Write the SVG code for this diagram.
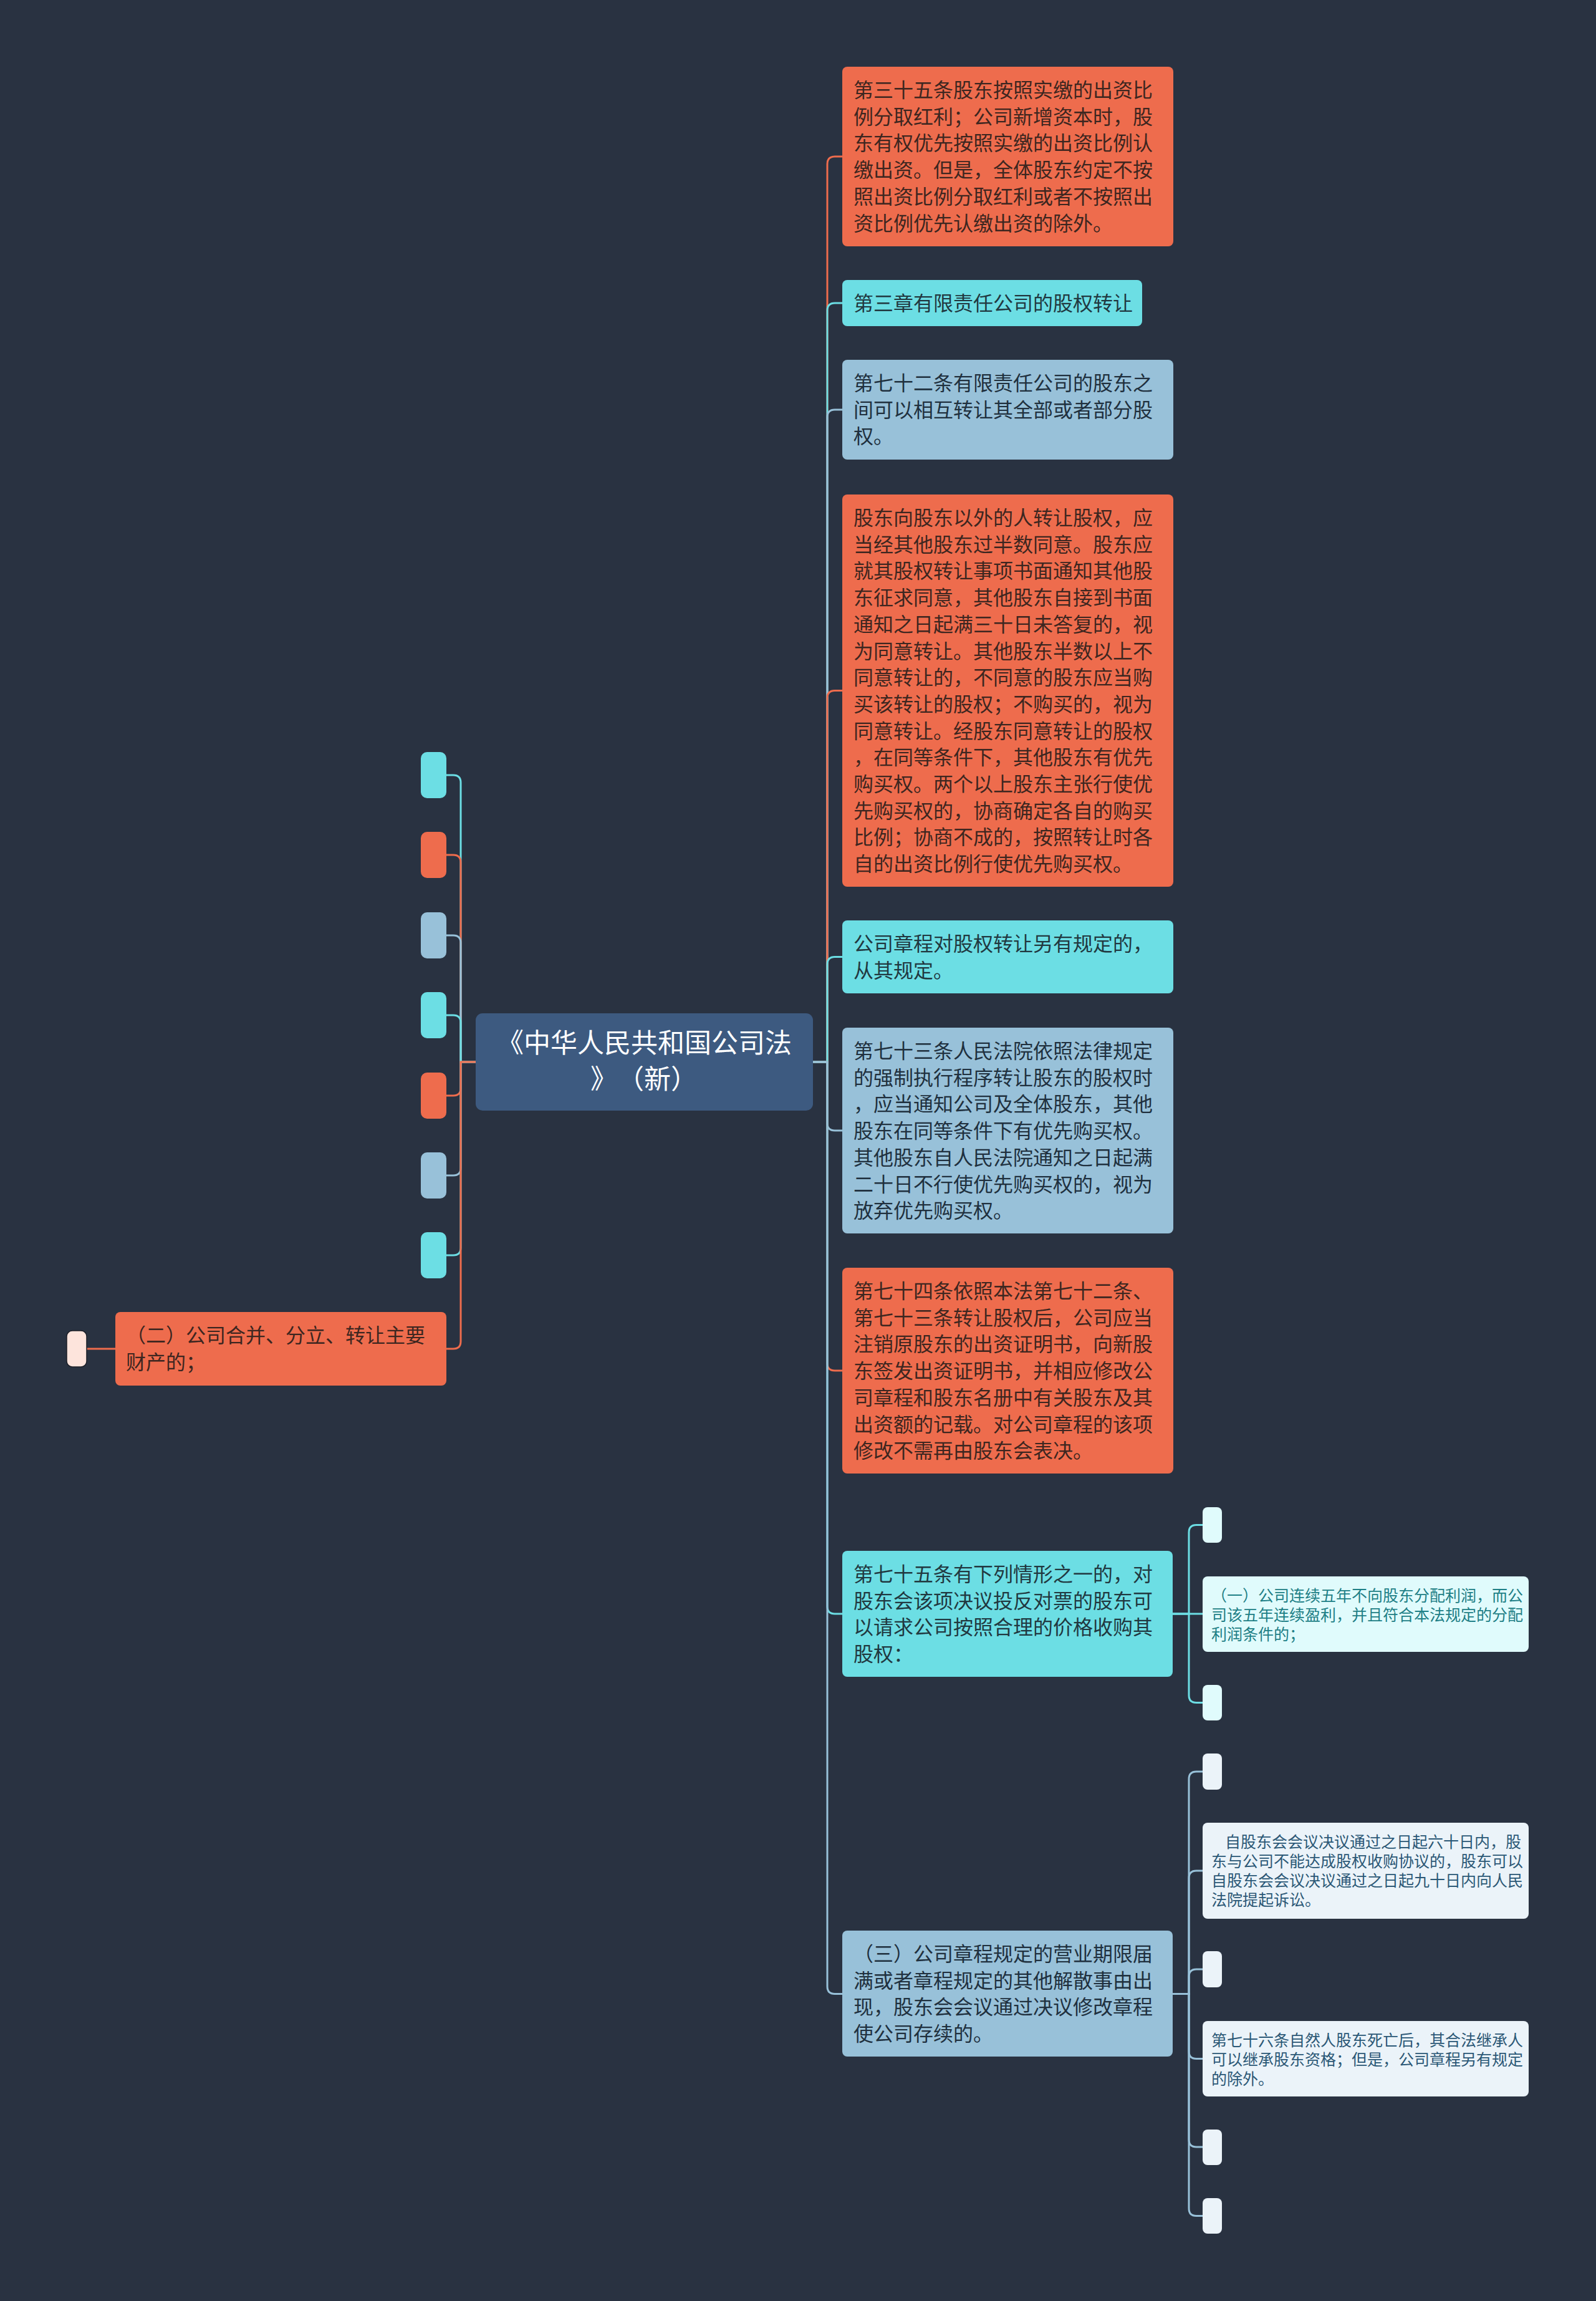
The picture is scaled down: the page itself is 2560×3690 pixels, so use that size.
<svg xmlns="http://www.w3.org/2000/svg" width="2560" height="3690" viewBox="0 0 2560 3690">
<style>
text{font-family:"Noto Sans CJK SC","Microsoft YaHei",sans-serif;text-spacing-trim:space-all;}
.t32{font-size:32px;}
.t25{font-size:25px;}
.root{font-size:43px;fill:#ffffff;}
.o{fill:#ee6c4d;}
.c{fill:#6cdee4;}
.b{fill:#98c1d9;}
.to{fill:#3d2620;}
.tc{fill:#213840;}
.tb{fill:#20303e;}
.ln{fill:none;stroke-width:3;}
.lo{stroke:#ee6c4d;}
.lc{stroke:#6cdee4;}
.lb{stroke:#98c1d9;}
.pc{fill:#e0fbfc;}
.pb{fill:#ebf3f9;}
</style>
<rect x="0" y="0" width="2560" height="3690" fill="#293241"/>
<g id="connectors">
<path class="ln lo" d="M1304,1703 H1327 V263 Q1327,251 1339,251 H1351"/>
<path class="ln lc" d="M1304,1703 H1327 V498 Q1327,486 1339,486 H1351"/>
<path class="ln lb" d="M1304,1703 H1327 V669 Q1327,657 1339,657 H1351"/>
<path class="ln lo" d="M1304,1703 H1327 V1119.5 Q1327,1107.5 1339,1107.5 H1351"/>
<path class="ln lc" d="M1304,1703 H1327 V1546.5 Q1327,1534.5 1339,1534.5 H1351"/>
<path class="ln lb" d="M1304,1703 H1327 V1801 Q1327,1813 1339,1813 H1351"/>
<path class="ln lo" d="M1304,1703 H1327 V2186 Q1327,2198 1339,2198 H1351"/>
<path class="ln lc" d="M1304,1703 H1327 V2576 Q1327,2588 1339,2588 H1351"/>
<path class="ln lb" d="M1304,1703 H1327 V3185.5 Q1327,3197.5 1339,3197.5 H1351"/>
<path class="ln lc" d="M763,1703 H739 V1255 Q739,1243 727,1243 H716"/>
<path class="ln lo" d="M763,1703 H739 V1383 Q739,1371 727,1371 H716"/>
<path class="ln lb" d="M763,1703 H739 V1512 Q739,1500 727,1500 H716"/>
<path class="ln lc" d="M763,1703 H739 V1640 Q739,1628 727,1628 H716"/>
<path class="ln lo" d="M763,1703 H739 V1745 Q739,1757 727,1757 H716"/>
<path class="ln lb" d="M763,1703 H739 V1873 Q739,1885 727,1885 H716"/>
<path class="ln lc" d="M763,1703 H739 V2001 Q739,2013 727,2013 H716"/>
<path class="ln lo" d="M763,1703 H739 V2151 Q739,2163 727,2163 H716"/>
<path class="ln lo" d="M185,2163 H139"/>
<path class="ln lc" d="M1881,2588 H1907 V2457.5 Q1907,2445.5 1919,2445.5 H1929"/>
<path class="ln lc" d="M1881,2588 H1929"/>
<path class="ln lc" d="M1881,2588 H1907 V2718.5 Q1907,2730.5 1919,2730.5 H1929"/>
<path class="ln lb" d="M1881,3197.5 H1907 V2853 Q1907,2841 1919,2841 H1929"/>
<path class="ln lb" d="M1881,3197.5 H1907 V3012 Q1907,3000 1919,3000 H1929"/>
<path class="ln lb" d="M1881,3197.5 H1907 V3170 Q1907,3158 1919,3158 H1929"/>
<path class="ln lb" d="M1881,3197.5 H1907 V3289.5 Q1907,3301.5 1919,3301.5 H1929"/>
<path class="ln lb" d="M1881,3197.5 H1907 V3431 Q1907,3443 1919,3443 H1929"/>
<path class="ln lb" d="M1881,3197.5 H1907 V3541.5 Q1907,3553.5 1919,3553.5 H1929"/>
</g>
<g id="root">
<rect x="763" y="1625" width="541" height="156" rx="11" fill="#3d5a80"/>
<text class="root"><tspan x="1033.5" y="1688" text-anchor="middle">《中华人民共和国公司法</tspan><tspan x="947" y="1746">》</tspan><tspan x="990" y="1746">（新）</tspan></text>
</g>
<g id="n1">
<rect class="o" x="1351" y="107" width="531" height="288" rx="8"/>
<text class="t32 to"><tspan x="1369" y="156">第三十五条股东按照实缴的出资比</tspan><tspan x="1369" dy="42.7">例分取红利；公司新增资本时，股</tspan><tspan x="1369" dy="42.7">东有权优先按照实缴的出资比例认</tspan><tspan x="1369" dy="42.7">缴出资。但是，全体股东约定不按</tspan><tspan x="1369" dy="42.7">照出资比例分取红利或者不按照出</tspan><tspan x="1369" dy="42.7">资比例优先认缴出资的除外。</tspan></text>
</g>
<g id="n2">
<rect class="c" x="1351" y="449" width="481" height="74" rx="8"/>
<text class="t32 tc"><tspan x="1369" y="498">第三章有限责任公司的股权转让</tspan></text>
</g>
<g id="n3">
<rect class="b" x="1351" y="577" width="531" height="160" rx="8"/>
<text class="t32 tb"><tspan x="1369" y="626">第七十二条有限责任公司的股东之</tspan><tspan x="1369" dy="42.7">间可以相互转让其全部或者部分股</tspan><tspan x="1369" dy="42.7">权。</tspan></text>
</g>
<g id="n4">
<rect class="o" x="1351" y="793" width="531" height="629" rx="8"/>
<text class="t32 to"><tspan x="1369" y="842">股东向股东以外的人转让股权，应</tspan><tspan x="1369" dy="42.7">当经其他股东过半数同意。股东应</tspan><tspan x="1369" dy="42.7">就其股权转让事项书面通知其他股</tspan><tspan x="1369" dy="42.7">东征求同意，其他股东自接到书面</tspan><tspan x="1369" dy="42.7">通知之日起满三十日未答复的，视</tspan><tspan x="1369" dy="42.7">为同意转让。其他股东半数以上不</tspan><tspan x="1369" dy="42.7">同意转让的，不同意的股东应当购</tspan><tspan x="1369" dy="42.7">买该转让的股权；不购买的，视为</tspan><tspan x="1369" dy="42.7">同意转让。经股东同意转让的股权</tspan><tspan x="1369" dy="42.7">，在同等条件下，其他股东有优先</tspan><tspan x="1369" dy="42.7">购买权。两个以上股东主张行使优</tspan><tspan x="1369" dy="42.7">先购买权的，协商确定各自的购买</tspan><tspan x="1369" dy="42.7">比例；协商不成的，按照转让时各</tspan><tspan x="1369" dy="42.7">自的出资比例行使优先购买权。</tspan></text>
</g>
<g id="n5">
<rect class="c" x="1351" y="1476" width="531" height="117" rx="8"/>
<text class="t32 tc"><tspan x="1369" y="1525">公司章程对股权转让另有规定的，</tspan><tspan x="1369" dy="42.7">从其规定。</tspan></text>
</g>
<g id="n6">
<rect class="b" x="1351" y="1648" width="531" height="330" rx="8"/>
<text class="t32 tb"><tspan x="1369" y="1697">第七十三条人民法院依照法律规定</tspan><tspan x="1369" dy="42.7">的强制执行程序转让股东的股权时</tspan><tspan x="1369" dy="42.7">，应当通知公司及全体股东，其他</tspan><tspan x="1369" dy="42.7">股东在同等条件下有优先购买权。</tspan><tspan x="1369" dy="42.7">其他股东自人民法院通知之日起满</tspan><tspan x="1369" dy="42.7">二十日不行使优先购买权的，视为</tspan><tspan x="1369" dy="42.7">放弃优先购买权。</tspan></text>
</g>
<g id="n7">
<rect class="o" x="1351" y="2033" width="531" height="330" rx="8"/>
<text class="t32 to"><tspan x="1369" y="2082">第七十四条依照本法第七十二条、</tspan><tspan x="1369" dy="42.7">第七十三条转让股权后，公司应当</tspan><tspan x="1369" dy="42.7">注销原股东的出资证明书，向新股</tspan><tspan x="1369" dy="42.7">东签发出资证明书，并相应修改公</tspan><tspan x="1369" dy="42.7">司章程和股东名册中有关股东及其</tspan><tspan x="1369" dy="42.7">出资额的记载。对公司章程的该项</tspan><tspan x="1369" dy="42.7">修改不需再由股东会表决。</tspan></text>
</g>
<g id="n8">
<rect class="c" x="1351" y="2487" width="530" height="202" rx="8"/>
<text class="t32 tc"><tspan x="1369" y="2536">第七十五条有下列情形之一的，对</tspan><tspan x="1369" dy="42.7">股东会该项决议投反对票的股东可</tspan><tspan x="1369" dy="42.7">以请求公司按照合理的价格收购其</tspan><tspan x="1369" dy="42.7">股权：</tspan></text>
</g>
<g id="n8a"><rect class="pc" x="1929" y="2417" width="31" height="57" rx="8"/></g>
<g id="n8b">
<rect class="pc" x="1929" y="2528" width="523" height="121" rx="8"/>
<text class="t25" fill="#1e7f86"><tspan x="1943" y="2568">（一）公司连续五年不向股东分配利润，而公</tspan><tspan x="1943" dy="31">司该五年连续盈利，并且符合本法规定的分配</tspan><tspan x="1943" dy="31">利润条件的；</tspan></text>
</g>
<g id="n8c"><rect class="pc" x="1929" y="2702" width="31" height="57" rx="8"/></g>
<g id="n9">
<rect class="b" x="1351" y="3096" width="530" height="202" rx="8"/>
<text class="t32 tb"><tspan x="1369" y="3145">（三）公司章程规定的营业期限届</tspan><tspan x="1369" dy="42.7">满或者章程规定的其他解散事由出</tspan><tspan x="1369" dy="42.7">现，股东会会议通过决议修改章程</tspan><tspan x="1369" dy="42.7">使公司存续的。</tspan></text>
</g>
<g id="n9a"><rect class="pb" x="1929" y="2812" width="31" height="58" rx="8"/></g>
<g id="n9b">
<rect class="pb" x="1929" y="2923" width="523" height="154" rx="8"/>
<text class="t25" fill="#2b5876"><tspan x="1965" y="2963">自股东会会议决议通过之日起六十日内，股</tspan><tspan x="1943" dy="31">东与公司不能达成股权收购协议的，股东可以</tspan><tspan x="1943" dy="31">自股东会会议决议通过之日起九十日内向人民</tspan><tspan x="1943" dy="31">法院提起诉讼。</tspan></text>
</g>
<g id="n9c"><rect class="pb" x="1929" y="3129" width="31" height="58" rx="8"/></g>
<g id="n9d">
<rect class="pb" x="1929" y="3241" width="523" height="121" rx="8"/>
<text class="t25" fill="#2b5876"><tspan x="1943" y="3281">第七十六条自然人股东死亡后，其合法继承人</tspan><tspan x="1943" dy="31">可以继承股东资格；但是，公司章程另有规定</tspan><tspan x="1943" dy="31">的除外。</tspan></text>
</g>
<g id="n9e"><rect class="pb" x="1929" y="3415" width="31" height="57" rx="8"/></g>
<g id="n9f"><rect class="pb" x="1929" y="3525" width="31" height="57" rx="8"/></g>
<g id="l1"><rect class="c" x="675" y="1206" width="41" height="74" rx="10"/></g>
<g id="l2"><rect class="o" x="675" y="1334" width="41" height="74" rx="10"/></g>
<g id="l3"><rect class="b" x="675" y="1463" width="41" height="74" rx="10"/></g>
<g id="l4"><rect class="c" x="675" y="1591" width="41" height="74" rx="10"/></g>
<g id="l5"><rect class="o" x="675" y="1720" width="41" height="74" rx="10"/></g>
<g id="l6"><rect class="b" x="675" y="1848" width="41" height="74" rx="10"/></g>
<g id="l7"><rect class="c" x="675" y="1976" width="41" height="74" rx="10"/></g>
<g id="l8">
<rect class="o" x="185" y="2104" width="531" height="118" rx="8"/>
<text class="t32 to"><tspan x="202" y="2153">（二）公司合并、分立、转让主要</tspan><tspan x="202" dy="42.7">财产的；</tspan></text>
</g>
<g id="l8a"><rect x="107" y="2134" width="32" height="58" rx="9" fill="#fde4dc" stroke="#1b1f27" stroke-width="1.5"/></g>
</svg>
